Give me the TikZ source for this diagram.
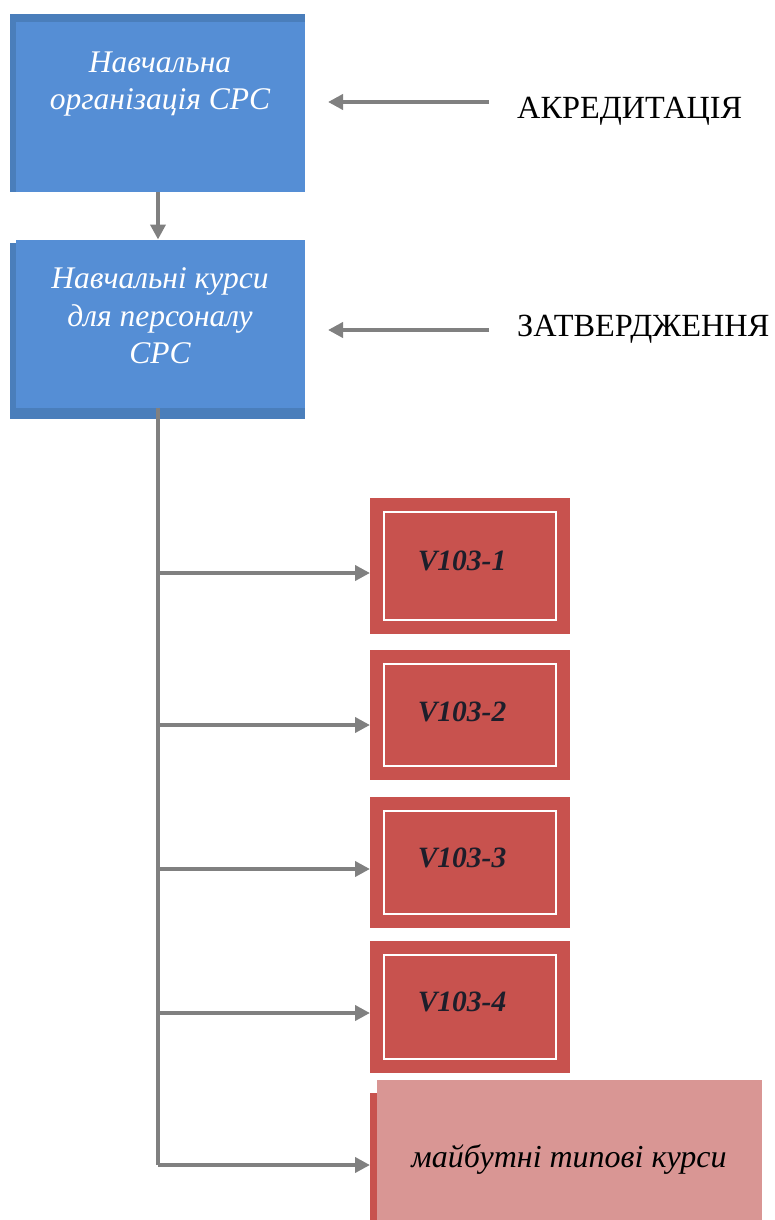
\documentclass[tikz,border=0pt]{standalone}
\usepackage{fontspec}
\setmainfont{Liberation Serif}
\usetikzlibrary{arrows.meta}
\definecolor{boxblue}{HTML}{558ED5}
\definecolor{edgeblue}{HTML}{4A7EBB}
\definecolor{boxred}{HTML}{C8524E}
\definecolor{boxpink}{HTML}{D99694}
\definecolor{linkgray}{HTML}{808080}
\definecolor{codeink}{HTML}{1E1E2A}
\tikzset{
  bluebox/.style={fill=boxblue, minimum width=289pt, inner sep=0pt, outer sep=0pt},
  bluetext/.style={text=white, font=\fontsize{31.5}{37.5}\selectfont\itshape, align=center, inner sep=0pt},
  redbox/.style={fill=boxred, minimum width=200pt, inner sep=0pt, outer sep=0pt},
  codetext/.style={text=codeink, font=\fontsize{29.5}{32}\selectfont\bfseries\itshape, inner sep=0pt},
  innerline/.style={draw=white, line width=2pt},
  label/.style={font=\fontsize{32.3}{36}\selectfont, inner sep=0pt, anchor=base west},
  arr/.style={draw=linkgray, line width=4pt, -{Triangle[length=15pt,width=15pt]}},
  link/.style={draw=linkgray, line width=4pt},
}
\begin{document}
\begin{tikzpicture}[x=1pt,y=-1pt]
\useasboundingbox (0,0) rectangle (774,1220);

% top box: darker band along the top and left edges
\fill[edgeblue] (10,14) rectangle (305,192);
\node[bluebox, minimum height=170pt] (org) at (160.5,107) {};
\node[bluetext] (orgtxt) at (160,84) {Навчальна\\організація СРС};

% second box: darker band along the bottom and left edges
\fill[edgeblue] (10,243) rectangle (305,419);
\node[bluebox, minimum height=168pt] (crs) at (160.5,323.5) {};
\node[bluetext] (crstxt) at (160,316) {Навчальні курси\\для персоналу\\СРС};

% side labels and their arrows
\node[label] (akr) at (517,119) {АКРЕДИТАЦІЯ};
\node[label] (zat) at (517,336) {ЗАТВЕРДЖЕННЯ};
\coordinate (akrtail) at (489,102);
\coordinate (zattail) at (489,330);
\draw[arr, shorten >=23pt] (akrtail) -- (org.east |- akrtail);
\draw[arr, shorten >=23pt] (zattail) -- (crs.east |- zattail);

% link between the two blue boxes
\draw[arr] (org.south -| 158,0) -- (crs.north -| 158,0);

% course boxes
\node[redbox, minimum height=136pt] (v1) at (470,565.5) {};
\node[redbox, minimum height=130pt] (v2) at (470,715) {};
\node[redbox, minimum height=131pt] (v3) at (470,862.5) {};
\node[redbox, minimum height=132pt] (v4) at (470,1007) {};
\foreach \b in {v1,v2,v3,v4}
  \draw[innerline] ([shift={(14,14)}]\b.north west) rectangle ([shift={(-14,-14)}]\b.south east);
\node[codetext] (t1) at (462,561) {V103-1};
\node[codetext] (t2) at (462,712) {V103-2};
\node[codetext] (t3) at (462,858) {V103-3};
\node[codetext] (t4) at (462,1002) {V103-4};

% future courses box with a red strip on its left side
\fill[boxred] (370,1093) rectangle (378,1220);
\node[fill=boxpink, minimum width=385pt, minimum height=140pt, inner sep=0pt, outer sep=0pt] (fut) at (569.5,1150) {};
\node[font=\fontsize{32}{36}\selectfont\itshape, inner sep=0pt] (futtxt) at (569,1159) {майбутні типові курси};

% trunk line and branches
\coordinate (trunkend) at (158,1165);
\draw[link] (crs.south -| trunkend) -- (trunkend);
\foreach \b/\y in {v1/573, v2/725, v3/869, v4/1013}
  \draw[arr] (158,\y) -- (\b.west |- 0,\y);
\draw[arr] (trunkend) -- (370,1165);
\end{tikzpicture}
\end{document}
